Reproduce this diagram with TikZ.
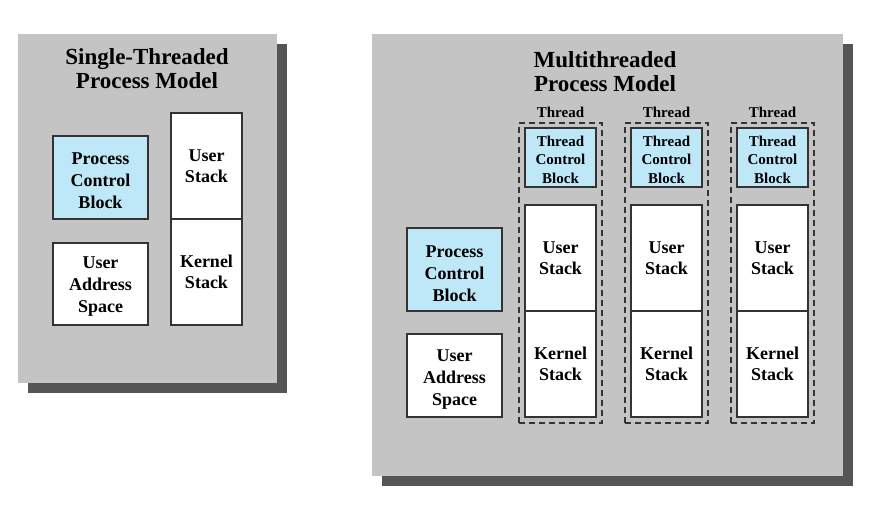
\documentclass[tikz,border=0pt]{standalone}
\usepackage{fontspec}
\setmainfont{Liberation Serif}
\definecolor{panelgray}{HTML}{C4C4C4}
\definecolor{shadowgray}{HTML}{555555}
\definecolor{cbblue}{HTML}{BEE8F8}
\definecolor{edge}{HTML}{333333}
\tikzset{
  box/.style={draw=edge, line width=1.3pt, fill=white, align=center, inner sep=0pt,
    font=\bfseries\fontsize{18}{21.5}\selectfont},
  cb/.style={box, fill=cbblue},
  boxtext/.style={align=center, inner sep=0pt, font=\bfseries\fontsize{18}{22}\selectfont},
  tcbtext/.style={align=center, inner sep=0pt, font=\bfseries\fontsize{15}{18.5}\selectfont},
  threadbox/.style={draw=edge, line width=1.2pt, dash pattern=on 6pt off 4pt, inner sep=0pt},
  threadlabel/.style={font=\bfseries\fontsize{15}{17}\selectfont, inner sep=0pt},
  title/.style={align=center, inner sep=0pt, font=\bfseries\fontsize{23}{24.5}\selectfont}
}
\begin{document}
\begin{tikzpicture}[x=1pt,y=-1pt]
\useasboundingbox (0,0) rectangle (876,508);
% left panel
\fill[shadowgray] (28,44) rectangle (287,393);
\fill[panelgray] (18,34) rectangle (277,383);
\node[title] (ltitle) at (147,68.5) {Single-Threaded\\Process Model};
\node[cb, minimum width=95pt, minimum height=83pt] (lpcb) at (100.5,177.5) {};
\node[boxtext] (lpcbt) at ([yshift=-3pt]lpcb.center) {Process\\Control\\Block};
\node[box, minimum width=95pt, minimum height=82pt] (luas) at (100.5,284) {};
\node[boxtext] (luast) at ([yshift=-3pt]luas.center) {User\\Address\\Space};
\node[box, minimum width=71pt, minimum height=106pt] (lus) at (206.5,166) {User\\Stack};
\node[box, minimum width=71pt, minimum height=106pt] (lks) at (206.5,272) {Kernel\\Stack};
% right panel
\fill[shadowgray] (382,44) rectangle (853,486);
\fill[panelgray] (372,34) rectangle (843,476);
\node[title] (rtitle) at (605,71.5) {Multithreaded\\Process Model};
\node[cb, minimum width=95pt, minimum height=83pt] (rpcb) at (454.5,269.5) {};
\node[boxtext] (rpcbt) at ([yshift=-4pt]rpcb.center) {Process\\Control\\Block};
\node[box, minimum width=95pt, minimum height=83pt] (ruas) at (454.5,375.5) {};
\node[boxtext] (ruast) at ([yshift=-4pt]ruas.center) {User\\Address\\Space};
\foreach \i/\x in {1/560.5,2/666.5,3/772.5}{
  \node[threadbox, minimum width=83pt, minimum height=300pt] (th\i) at (\x,273) {};
  \node[threadlabel] (tl\i) at (\x,112) {Thread};
  \node[cb, minimum width=71pt, minimum height=59pt] (tcb\i) at (\x,157.5) {};
  \node[tcbtext] (tcbt\i) at ([yshift=-2pt]tcb\i.center) {Thread\\Control\\Block};
  \node[box, minimum width=71pt, minimum height=106pt] (us\i) at (\x,258) {User\\Stack};
  \node[box, minimum width=71pt, minimum height=106pt] (ks\i) at (\x,364) {Kernel\\Stack};
}
\end{tikzpicture}
\end{document}
